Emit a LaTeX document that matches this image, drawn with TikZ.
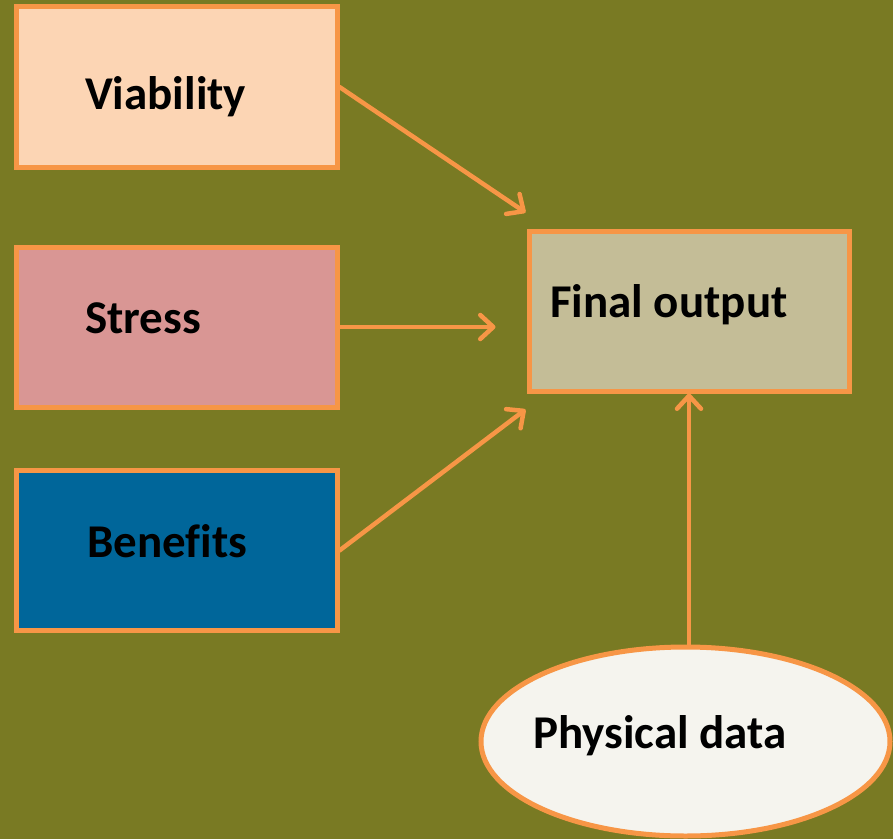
\documentclass[tikz,border=0pt]{standalone}
\usepackage{fontspec}
\setmainfont[Ligatures={NoCommon}]{Carlito}
\usetikzlibrary{shapes.geometric,arrows.meta,calc}
\definecolor{bgolive}{HTML}{797A23}
\definecolor{edgeorange}{HTML}{F79646}
\definecolor{viacol}{HTML}{FCD5B4}
\definecolor{strcol}{HTML}{D99694}
\definecolor{bencol}{HTML}{00669A}
\definecolor{fincol}{HTML}{C4BD97}
\definecolor{phycol}{HTML}{F5F4EE}
\tikzset{
  boxnode/.style={rectangle, draw=edgeorange, line width=5bp, minimum width=320bp, minimum height=160bp, inner sep=0pt},
  ellnode/.style={ellipse, draw=edgeorange, line width=5bp, fill=phycol, minimum width=409bp, minimum height=189bp, inner sep=0pt},
  lbl/.style={inner sep=0pt, anchor=base west, font=\fontsize{47bp}{56bp}\selectfont\bfseries, text=black},
  arr/.style={draw=edgeorange, line width=4.5bp, line cap=round, -{Straight Barb[length=13bp,width=24bp,line cap=round,line join=round]}}
}
\begin{document}
\begin{tikzpicture}[x=1bp,y=-1bp]
\fill[bgolive] (0,0) rectangle (893,839);
\useasboundingbox (0,0) rectangle (893,839);
\node[boxnode, fill=viacol] (vbox) at (177,87) {};
\node[boxnode, fill=strcol] (sbox) at (177,327) {};
\node[boxnode, fill=bencol] (bbox) at (177,550.5) {};
\node[boxnode, fill=fincol] (fbox) at (689,311) {};
\begin{scope}
\clip (0,0) rectangle (893,839);
\node[ellnode] (pdata) at (685.5,741.5) {};
\end{scope}
\node[lbl] (vtext) at (85,109) {Viability};
\node[lbl] (stext) at (85,333) {Stress};
\node[lbl] (btext) at (87,557) {Benefits};
\node[lbl] (ftext) at (550,317) {Final output};
\node[lbl] (ptext) at (533,748) {Physical data};
\draw[arr] (vbox.east) -- ($(fbox.north west)+(-1,-16)$);
\draw[arr] (sbox.east) -- ($(fbox.west |- sbox.east)+(-31,0)$);
\draw[arr] (bbox.east) -- ($(fbox.south west)+(-1,16)$);
\draw[arr] (fbox.south |- pdata.north) -- (fbox.south);
\end{tikzpicture}
\end{document}
